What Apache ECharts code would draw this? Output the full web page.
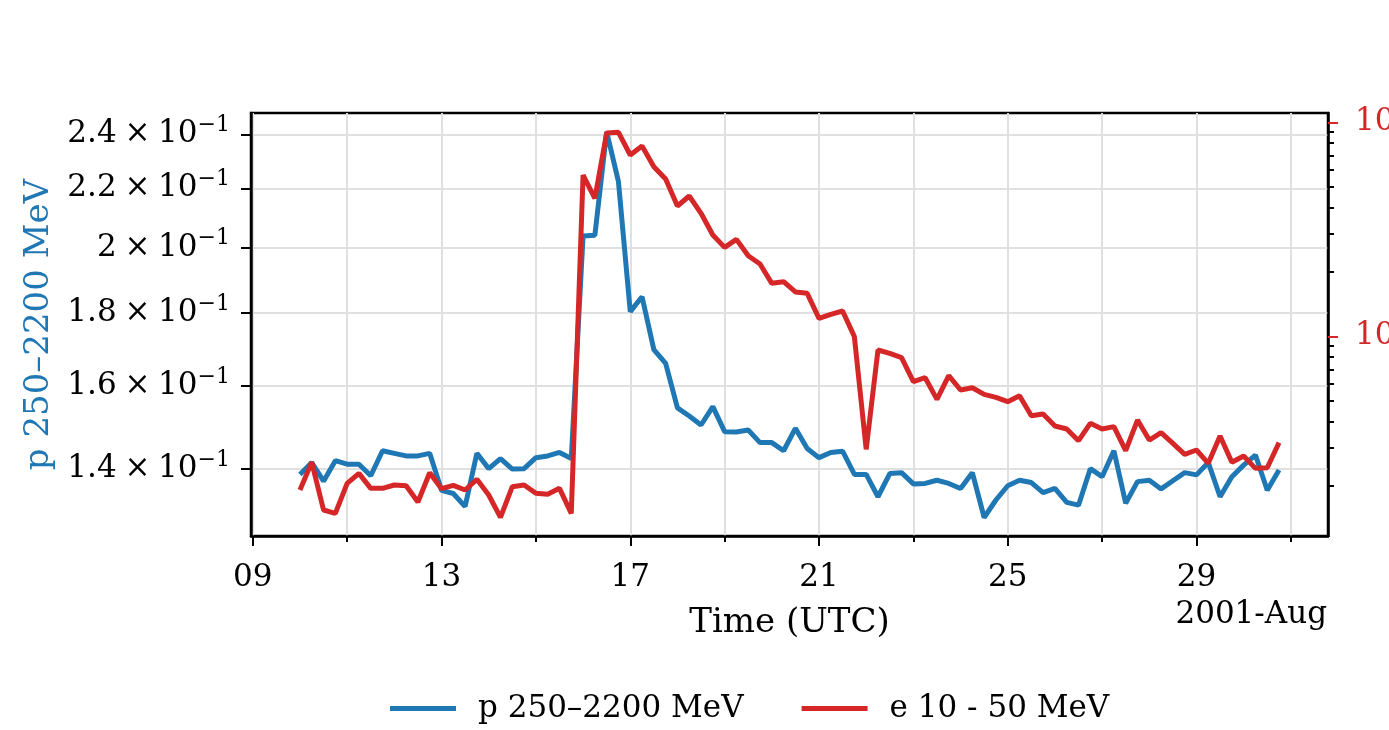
<!DOCTYPE html>
<html>
<head>
<meta charset="utf-8">
<script src="https://cdn.jsdelivr.net/npm/echarts@6/dist/echarts.min.js"></script>
<style>
  html, body { margin: 0; padding: 0; background: #fff; }
  #chart { width: 1389px; height: 730px; }
</style>
</head>
<body>
<div id="chart"></div>
<script>
// 6-hourly samples starting 2001-08-10 00:00 UTC
const startTime = Date.UTC(2001, 7, 10, 0, 0);
const stepMs = 6 * 3600 * 1000;

// p 250-2200 MeV (left axis)
const protonFlux = [
  0.1388, 0.1415, 0.1373, 0.1419, 0.1411, 0.1411, 0.1385, 0.1442, 0.1436, 0.1430,
  0.1430, 0.1436, 0.1353, 0.1346, 0.1318, 0.1436, 0.1401, 0.1424, 0.1400, 0.1401,
  0.1426, 0.1430, 0.1438, 0.1424, 0.2038, 0.2040, 0.2410, 0.2224, 0.1804, 0.1848,
  0.1697, 0.1660, 0.1545, 0.1525, 0.1503, 0.1548, 0.1487, 0.1486, 0.1491, 0.1461,
  0.1461, 0.1442, 0.1495, 0.1447, 0.1426, 0.1438, 0.1441, 0.1388, 0.1388, 0.1339,
  0.1390, 0.1392, 0.1367, 0.1368, 0.1375, 0.1368, 0.1357, 0.1392, 0.1295, 0.1332,
  0.1363, 0.1375, 0.1370, 0.1348, 0.1357, 0.1327, 0.1321, 0.1401, 0.1383, 0.1442,
  0.1325, 0.1372, 0.1375, 0.1356, 0.1374, 0.1392, 0.1387, 0.1415, 0.1339, 0.1383,
  0.1409, 0.1432, 0.1353, 0.1398
];

// e 10 - 50 MeV (right axis)
const electronFlux = [
  0.01913, 0.02577, 0.01543, 0.01488, 0.02055, 0.02289, 0.01948, 0.01948, 0.02019, 0.02004,
  0.01681, 0.02305, 0.01941, 0.02011, 0.01913, 0.02146, 0.01813, 0.01426, 0.01983, 0.02019,
  0.01846, 0.01826, 0.01948, 0.01488, 0.5672, 0.4413, 0.8913, 0.8977, 0.7035, 0.7750,
  0.6205, 0.5433, 0.4063, 0.4524, 0.3756, 0.2974, 0.2604, 0.2838, 0.2381, 0.2177,
  0.1768, 0.1800, 0.1611, 0.1588, 0.1213, 0.1267, 0.1313, 0.09961, 0.02963, 0.08630,
  0.08329, 0.07947, 0.06138, 0.06407, 0.05075, 0.06546, 0.05610, 0.05752, 0.05355, 0.05185,
  0.04949, 0.05278, 0.04256, 0.04333, 0.03809, 0.03688, 0.03253, 0.03919, 0.03688, 0.03783,
  0.02922, 0.04062, 0.03276, 0.03544, 0.03161, 0.02808, 0.02942, 0.02549, 0.03420, 0.02577,
  0.02759, 0.02415, 0.02432, 0.03184
];

// tick positions / labels
const xLabelDays = [9, 13, 17, 21, 25, 29];
const xMinorDays = [9, 11, 13, 15, 17, 19, 21, 23, 25, 27, 29, 31];
const leftTicks = [0.14, 0.16, 0.18, 0.20, 0.22, 0.24];
const leftTickText = ['1.4', '1.6', '1.8', '2', '2.2', '2.4'];
const rightMajor = [0.1, 1];
const rightMajorExp = ['\u22121', '0'];
const rightMinor = [0.02, 0.03, 0.04, 0.05, 0.06, 0.07, 0.08, 0.09,
                    0.2, 0.3, 0.4, 0.5, 0.6, 0.7, 0.8, 0.9];

const seriesNames = ['p 250\u20132200 MeV', 'e 10 - 50 MeV'];
const BLUE = '#1f77b4';
const RED = '#d62728';
const FONT = 'DejaVu Serif';

const times = protonFlux.map((_, i) => startTime + i * stepMs);
const span = times[times.length - 1] - times[0];
const xMin = times[0] - 0.05 * span;
const xMax = times[times.length - 1] + 0.05 * span;
const dayTs = d => Date.UTC(2001, 7, d);

const chart = echarts.init(document.getElementById('chart'));

const option = {
  animation: false,
  textStyle: { fontFamily: FONT, color: '#000' },
  grid: {
    left: 251, right: 61, top: 113, bottom: 194,
    outerBoundsMode: 'none',
    show: true, borderColor: '#000', borderWidth: 2.5, backgroundColor: 'transparent'
  },
  legend: {
    data: seriesNames,
    left: 385, top: 688,
    icon: 'rect', itemWidth: 66, itemHeight: 5, itemGap: 58,
    textStyle: { fontFamily: FONT, fontSize: 31, color: '#000', padding: [0, 0, 0, 17] }
  },
  graphic: [{
    type: 'text', right: 62, top: 599,
    style: { text: '2001-Aug', font: '31px "DejaVu Serif"', fill: '#000' }
  }],
  xAxis: [{
    type: 'value', min: xMin, max: xMax,
    name: 'Time (UTC)', nameLocation: 'middle', nameGap: 70,
    nameTextStyle: { fontFamily: FONT, fontSize: 34, color: '#000' },
    axisLine: { lineStyle: { color: '#000', width: 2.5 } },
    axisTick: { customValues: xMinorDays.map(dayTs), length: 6, lineStyle: { color: '#000', width: 2 } },
    axisLabel: {
      customValues: xLabelDays.map(dayTs), margin: 26, fontSize: 31, color: '#000', fontFamily: FONT,
      formatter: v => String(new Date(v).getUTCDate()).padStart(2, '0')
    },
    splitLine: { show: true, lineStyle: { color: '#e0e0e0', width: 2 } }
  }, {
    type: 'value', min: xMin, max: xMax, position: 'bottom',
    axisLine: { show: false },
    axisTick: { customValues: xLabelDays.map(dayTs), length: 10, lineStyle: { color: '#000', width: 2 } },
    axisLabel: { show: false },
    splitLine: { show: false }
  }],
  yAxis: [{
    type: 'log', position: 'left', min: 0.1257, max: 0.2484,
    name: seriesNames[0], nameLocation: 'middle', nameRotate: 90, nameGap: 182,
    nameTextStyle: { fontFamily: FONT, fontSize: 34, color: BLUE },
    axisLine: { show: true, lineStyle: { color: '#000', width: 2.5 } },
    axisTick: { customValues: leftTicks, length: 10, lineStyle: { color: '#000', width: 2 } },
    axisLabel: {
      customValues: leftTicks, margin: 21,
      formatter: v => {
        const i = leftTicks.findIndex(t => Math.abs(t - v) < 1e-6);
        return '{b|' + leftTickText[i] + '\u2005\u00d7\u200510}{s|\u22121}';
      },
      rich: {
        b: { fontFamily: FONT, fontSize: 31, color: '#000' },
        s: { fontFamily: FONT, fontSize: 22, color: '#000', padding: [0, 0, 18, 0] }
      }
    },
    splitLine: { show: true, lineStyle: { color: '#e0e0e0', width: 2 } }
  }, {
    type: 'log', position: 'right', min: 0.011664, max: 1.1053,
    axisLine: { show: true, lineStyle: { color: '#000', width: 2.5 } },
    axisTick: { customValues: rightMajor, length: 10, lineStyle: { color: RED, width: 2 } },
    axisLabel: {
      customValues: rightMajor, margin: 27,
      formatter: v => '{b|10}{s|' + rightMajorExp[v < 0.5 ? 0 : 1] + '}',
      rich: {
        b: { fontFamily: FONT, fontSize: 31, color: RED },
        s: { fontFamily: FONT, fontSize: 22, color: RED, padding: [0, 0, 18, 0] }
      }
    },
    splitLine: { show: false }
  }, {
    type: 'log', position: 'right', min: 0.011664, max: 1.1053,
    axisLine: { show: false },
    axisTick: { customValues: rightMinor, length: 6, lineStyle: { color: '#000', width: 2 } },
    axisLabel: { show: false },
    splitLine: { show: false }
  }],
  series: [{
    name: seriesNames[0], type: 'line', xAxisIndex: 0, yAxisIndex: 0,
    showSymbol: false, color: BLUE, lineStyle: { width: 5, color: BLUE },
    data: times.map((t, i) => [t, protonFlux[i]])
  }, {
    name: seriesNames[1], type: 'line', xAxisIndex: 0, yAxisIndex: 1,
    showSymbol: false, color: RED, lineStyle: { width: 5, color: RED },
    data: times.map((t, i) => [t, electronFlux[i]])
  }]
};

chart.setOption(option);

window.addEventListener('resize', function () {
  chart.resize();
});
</script>
</body>
</html>
